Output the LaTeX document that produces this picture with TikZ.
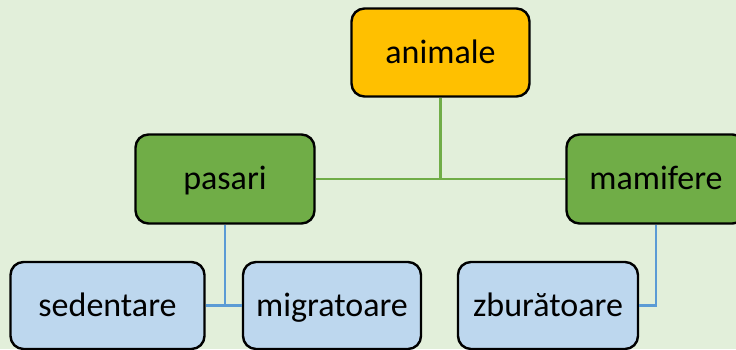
\documentclass[tikz,border=0pt]{standalone}
\usepackage{fontspec}
\setmainfont{Carlito}
\usepackage{xcolor}
\usepackage{tikz}
\usetikzlibrary{positioning, calc}

\definecolor{bgGreen}{HTML}{E2EFDA}
\definecolor{topGold}{HTML}{FFC000}
\definecolor{midGreen}{HTML}{70AD47}
\definecolor{lowBlue}{HTML}{BDD7EE}
\definecolor{lineBlue}{HTML}{5B9BD5}

\begin{document}
\begin{tikzpicture}[
    x=1pt, y=-1pt,
    box/.style={rectangle, draw=black, line width=2.4pt, rounded corners=13pt, font=\fontsize{34}{34}\selectfont, text height=24pt, text depth=3pt, inner sep=0pt},
    topbox/.style={box, fill=topGold, minimum width=178pt, minimum height=88pt},
    midbox/.style={box, fill=midGreen, minimum width=179pt, minimum height=89pt},
    lowbox/.style={box, fill=lowBlue, minimum height=87pt},
    greenline/.style={draw=midGreen, line width=2.5pt},
    blueline/.style={draw=lineBlue, line width=2.5pt}
]

% Background
\clip (0,0) rectangle (736,349);
\fill[bgGreen] (0,0) rectangle (736,349);

% Nodes
\node (animale) [topbox] at (440.5,52.5) {animale};
\node (pasari) [midbox] at (225,179) {pasari};
\node (mamifere) [midbox] at (656,179) {mamifere};

\node (sedentare) [lowbox, minimum width=194pt] at (107.5,305.5) {sedentare};
\node (migratoare) [lowbox, minimum width=178pt] at (332,305.5) {migratoare};
\node (zburatoare) [lowbox, minimum width=180pt] at (548,305.5) {zburătoare};

% Lines
\draw [greenline] (animale.south) -- (animale.south |- pasari.east);
\draw [greenline] (pasari.east) -- (mamifere.west);
\draw [blueline] (pasari.south) -- (pasari.south |- sedentare.east);
\draw [blueline] (sedentare.east) -- (migratoare.west);
\draw [blueline] (mamifere.south) |- (zburatoare.east);

\end{tikzpicture}
\end{document}
